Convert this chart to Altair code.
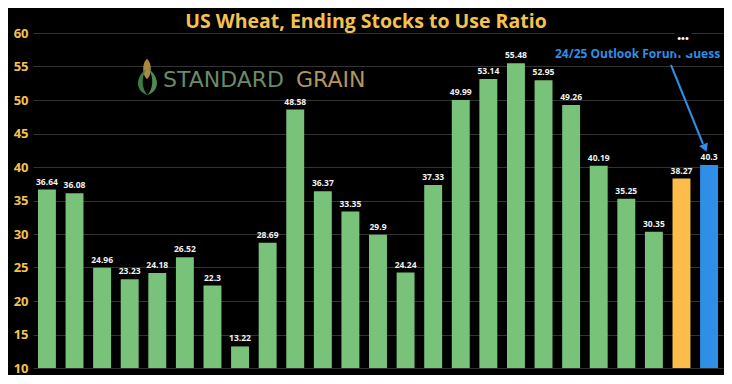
import altair as alt
import pandas as pd

years = ["2000/01","2001/02","2002/03","2003/04","2004/05","2005/06","2006/07","2007/08",
         "2008/09","2009/10","2010/11","2011/12","2012/13","2013/14","2014/15","2015/16",
         "2016/17","2017/18","2018/19","2019/20","2020/21","2021/22","2022/23","2023/24","2024/25"]
ratios = [36.64, 36.08, 24.96, 23.23, 24.18, 26.52, 22.3, 13.22, 28.69, 48.58, 36.37, 33.35,
          29.9, 24.24, 37.33, 49.99, 53.14, 55.48, 52.95, 49.26, 40.19, 35.25, 30.35, 38.27, 40.3]
kinds = ["hist"] * 23 + ["current", "guess"]
labels = ["36.64","36.08","24.96","23.23","24.18","26.52","22.3","13.22","28.69","48.58","36.37","33.35",
          "29.9","24.24","37.33","49.99","53.14","55.48","52.95","49.26","40.19","35.25","30.35","38.27","40.3"]
y_ticks = [10, 15, 20, 25, 30, 35, 40, 45, 50, 55, 60]

GOLD = "#f4c24e"
GREEN = "#78c27a"
ORANGE = "#fcbd4a"
BLUE = "#2f8ee8"
W, H = 690, 335

df = pd.DataFrame({"year": years, "ratio": ratios, "kind": kinds, "label": labels})

x = alt.X("year:N", sort=None, axis=None,
          scale=alt.Scale(paddingInner=0.35, paddingOuter=0.18))
y = alt.Y("ratio:Q", scale=alt.Scale(domain=[10, 60], nice=False, zero=False),
          axis=alt.Axis(values=y_ticks, grid=True, gridColor="#333333", gridWidth=1,
                        domain=False, ticks=False, labelColor=GOLD, labelFont="Open Sans",
                        labelFontSize=13, labelFontWeight="bold", labelPadding=5, title=None))
color = alt.Color("kind:N", legend=None,
                  scale=alt.Scale(domain=["hist", "current", "guess"], range=[GREEN, ORANGE, BLUE]))

base = alt.Chart(df)
bars = base.mark_bar().encode(x=x, y=y, y2=alt.datum(10), color=color)
vals = base.mark_text(color="#f2f2f2", font="Open Sans", fontSize=8.5, fontWeight="bold",
                      baseline="bottom", dy=-3).encode(x=x, y=y, text="label:N")


def one(t):
    return alt.Chart(pd.DataFrame({"t": [t]}))


title = one("US Wheat, Ending Stocks to Use Ratio").mark_text(
    align="center", baseline="middle", font="Open Sans", fontSize=19.5, fontWeight="bold", color=GOLD
).encode(x=alt.value(333), y=alt.value(-11), text="t:N")

logo1 = one("STANDARD").mark_text(
    align="left", baseline="middle", font="DejaVu Sans", fontSize=22, color="#6a8a68"
).encode(x=alt.value(130), y=alt.value(47), text="t:N")
logo2 = one("GRAIN").mark_text(
    align="left", baseline="middle", font="DejaVu Sans", fontSize=22, color="#b3965e"
).encode(x=alt.value(263), y=alt.value(47), text="t:N")

cob = one("c").mark_point(
    shape="M0,-1 C0.5,-0.6 0.5,0.6 0,1 C-0.5,0.6 -0.5,-0.6 0,-1 Z",
    filled=True, color="#a8893f", size=420, opacity=1
).encode(x=alt.value(114), y=alt.value(36))
leafL = one("l").mark_point(
    shape="M0.1,-1 C-0.8,-0.3 -0.7,0.7 0.2,1 C-0.25,0.5 -0.3,-0.3 0.1,-1 Z",
    filled=True, color="#3f7a45", size=700, opacity=1
).encode(x=alt.value(112), y=alt.value(49))
leafR = one("r").mark_point(
    shape="M-0.1,-1 C0.8,-0.3 0.7,0.7 -0.2,1 C0.25,0.5 0.3,-0.3 -0.1,-1 Z",
    filled=True, color="#4f8a4f", size=700, opacity=1
).encode(x=alt.value(117), y=alt.value(49))

note = one("24/25 Outlook Forum Guess").mark_text(
    align="left", baseline="middle", font="Open Sans", fontSize=12, fontWeight="bold", color=BLUE
).encode(x=alt.value(522), y=alt.value(21), text="t:N")
blob = one("b").mark_point(shape="circle", filled=True, color="#000000", size=650, opacity=1
                           ).encode(x=alt.value(650), y=alt.value(10))
dots = one("•••").mark_text(
    align="center", baseline="middle", fontSize=11, color="#ffffff"
).encode(x=alt.value(650), y=alt.value(6), text="t:N")
arrow = one("a").mark_rule(color=BLUE, strokeWidth=2).encode(
    x=alt.value(638), y=alt.value(32), x2=alt.value(670), y2=alt.value(111))
head = one("h").mark_point(
    shape="triangle-down", filled=True, color=BLUE, size=90, angle=338, opacity=1
).encode(x=alt.value(672), y=alt.value(115))

chart = alt.layer(bars, vals, title, logo1, logo2, cob, leafL, leafR, note, blob, dots, arrow, head).properties(
    width=W, height=H,
    autosize=alt.AutoSizeParams(type="none"),
    padding={"left": 25, "top": 25, "right": 1, "bottom": 7},
    background="#000000",
).configure_view(stroke=None)

chart.save("out.html", embed_options={"renderer": "svg", "actions": False})
